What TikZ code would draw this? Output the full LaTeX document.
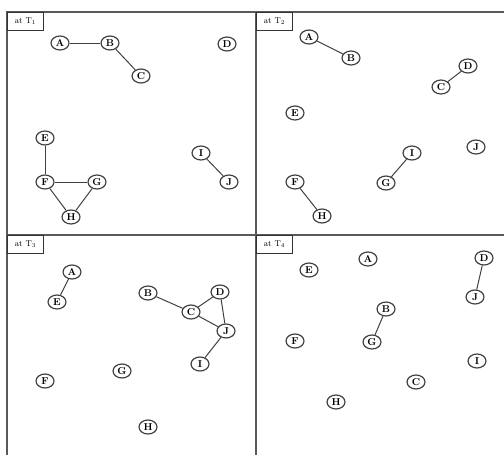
\documentclass[tikz,border=0pt]{standalone}
\usetikzlibrary{shapes.geometric}
\begin{document}
\begin{tikzpicture}[x=1pt,y=-1pt,
  vtx/.style={ellipse,draw=black!75,line width=1.2pt,fill=white,minimum width=18pt,minimum height=14pt,inner sep=0pt,font=\fontsize{10}{10}\selectfont\bfseries},
  frm/.style={draw=black!65,line width=1.5pt},
  lbl/.style={draw=black!80,line width=0.9pt,fill=white,inner sep=0pt,anchor=north west,minimum width=36pt,minimum height=18pt,font=\fontsize{8.5}{9}\selectfont},
  edg/.style={draw=black!75,line width=1pt}]
\useasboundingbox (0,0) rectangle (504,455);
% frame
\draw[frm] (504,12) -- (7,12) -- (7,455);
\draw[frm] (256,12) -- (256,455);
\draw[frm] (7,235) -- (504,235);
% labels
\node[lbl] (l1) at (7,12) {at T$_1$};
\node[lbl] (l2) at (256,12) {at T$_2$};
\node[lbl] (l3) at (7,235) {at T$_3$};
\node[lbl] (l4) at (256,235) {at T$_4$};
% panel 1
\node[vtx] (a1) at (60,43) {A};
\node[vtx] (b1) at (110,43) {B};
\node[vtx] (c1) at (141,76) {C};
\node[vtx] (d1) at (227,44) {D};
\node[vtx] (e1) at (45,138) {E};
\node[vtx] (f1) at (45,182) {F};
\node[vtx] (g1) at (97,182) {G};
\node[vtx] (h1) at (71,217) {H};
\node[vtx] (i1) at (201,153) {I};
\node[vtx] (j1) at (229,182) {J};
\draw[edg] (a1) -- (b1);
\draw[edg] (b1) -- (c1);
\draw[edg] (e1) -- (f1);
\draw[edg] (f1) -- (g1);
\draw[edg] (f1) -- (h1);
\draw[edg] (g1) -- (h1);
\draw[edg] (i1) -- (j1);
% panel 2
\node[vtx] (a2) at (309,37) {A};
\node[vtx] (b2) at (351,58) {B};
\node[vtx] (c2) at (441,87) {C};
\node[vtx] (d2) at (468,66) {D};
\node[vtx] (e2) at (295,113) {E};
\node[vtx] (f2) at (295,182) {F};
\node[vtx] (g2) at (386,183) {G};
\node[vtx] (h2) at (322,216) {H};
\node[vtx] (i2) at (412,153) {I};
\node[vtx] (j2) at (476,147) {J};
\draw[edg] (a2) -- (b2);
\draw[edg] (c2) -- (d2);
\draw[edg] (g2) -- (i2);
\draw[edg] (f2) -- (h2);
% panel 3
\node[vtx] (a3) at (72,272) {A};
\node[vtx] (b3) at (148,293) {B};
\node[vtx] (c3) at (191,312) {C};
\node[vtx] (d3) at (220,292) {D};
\node[vtx] (e3) at (57,302) {E};
\node[vtx] (f3) at (45,381) {F};
\node[vtx] (g3) at (122,371) {G};
\node[vtx] (h3) at (148,427) {H};
\node[vtx] (i3) at (200,364) {I};
\node[vtx] (j3) at (226,331) {J};
\draw[edg] (a3) -- (e3);
\draw[edg] (b3) -- (c3);
\draw[edg] (c3) -- (d3);
\draw[edg] (c3) -- (j3);
\draw[edg] (d3) -- (j3);
\draw[edg] (i3) -- (j3);
% panel 4
\node[vtx] (a4) at (368,259) {A};
\node[vtx] (b4) at (386,309) {B};
\node[vtx] (c4) at (416,382) {C};
\node[vtx] (d4) at (484,258) {D};
\node[vtx] (e4) at (309,270) {E};
\node[vtx] (f4) at (295,341) {F};
\node[vtx] (g4) at (372,342) {G};
\node[vtx] (h4) at (336,402) {H};
\node[vtx] (i4) at (477,361) {I};
\node[vtx] (j4) at (475,297) {J};
\draw[edg] (d4) -- (j4);
\draw[edg] (b4) -- (g4);
\end{tikzpicture}
\end{document}
